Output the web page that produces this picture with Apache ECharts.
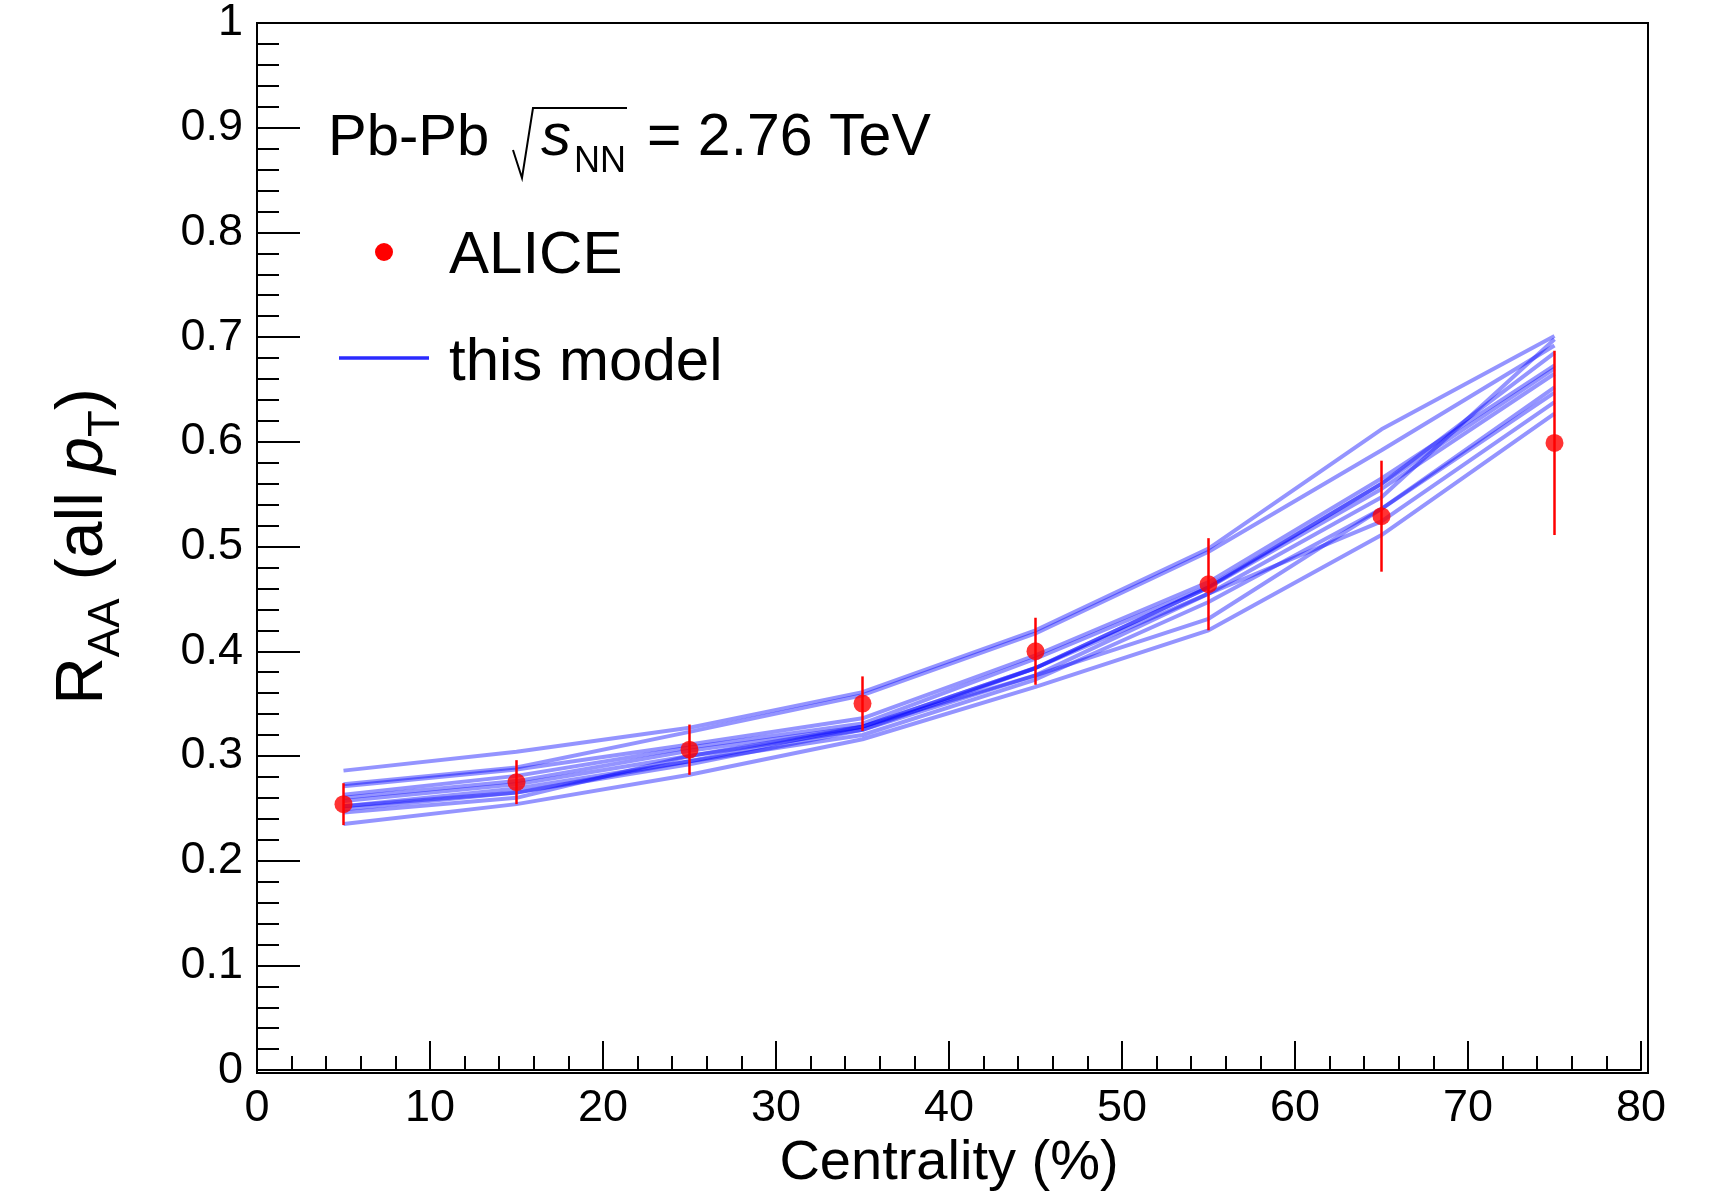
<!DOCTYPE html>
<html>
<head>
<meta charset="utf-8">
<title>RAA vs centrality</title>
<script src="https://cdn.jsdelivr.net/npm/echarts@6/dist/echarts.min.js"></script>
<style>
html,body{margin:0;padding:0;background:#fff;}
#chart{width:1717px;height:1197px;}
</style>
</head>
<body>
<div id="chart"></div>
<script>
var centrality = [5, 15, 25, 35, 45, 55, 65, 75];
var aliceRaa = [0.254, 0.275, 0.306, 0.350, 0.400, 0.464, 0.529, 0.599];
var aliceErr = [0.020, 0.021, 0.024, 0.026, 0.032, 0.044, 0.053, 0.088];

// model curves (one per parameter set)
var model1 = [0.286, 0.304, 0.327, 0.361, 0.420, 0.498, 0.612, 0.701];
var model2 = [0.273, 0.289, 0.323, 0.358, 0.417, 0.495, 0.592, 0.692];
var model3 = [0.271, 0.287, 0.311, 0.336, 0.396, 0.466, 0.565, 0.673];
var model4 = [0.263, 0.281, 0.308, 0.331, 0.393, 0.462, 0.560, 0.670];
var model5 = [0.260, 0.276, 0.305, 0.328, 0.384, 0.461, 0.555, 0.665];
var model6 = [0.257, 0.273, 0.300, 0.325, 0.377, 0.455, 0.547, 0.698];
var model7 = [0.252, 0.269, 0.295, 0.320, 0.373, 0.447, 0.536, 0.652];
var model8 = [0.249, 0.265, 0.292, 0.325, 0.384, 0.455, 0.524, 0.638];
var model9 = [0.246, 0.260, 0.300, 0.328, 0.377, 0.431, 0.536, 0.647];
var model10 = [0.235, 0.254, 0.282, 0.316, 0.366, 0.420, 0.511, 0.627];
var model11 = [0.252, 0.265, 0.295, 0.328, 0.384, 0.461, 0.560, 0.685];
var models = [model1, model2, model3, model4, model5, model6, model7, model8, model9, model10, model11];

var FONT = 'Liberation Sans';

function pairs(ys) {
  return centrality.map(function (c, i) { return [c, ys[i]]; });
}

var myChart = echarts.init(document.getElementById('chart'));

var series = models.map(function (m) {
  return {
    name: 'this model',
    type: 'line',
    data: pairs(m),
    showSymbol: false,
    symbol: 'none',
    lineStyle: { color: 'rgba(0,0,255,0.42)', width: 4 },
    z: 2,
    silent: true
  };
});

// error bars
series.push({
  name: 'ALICE err',
  type: 'custom',
  z: 3,
  data: centrality.map(function (c, i) { return [c, aliceRaa[i] - aliceErr[i], aliceRaa[i] + aliceErr[i]]; }),
  renderItem: function (params, api) {
    var lo = api.coord([api.value(0), api.value(1)]);
    var hi = api.coord([api.value(0), api.value(2)]);
    return {
      type: 'line',
      shape: { x1: lo[0], y1: lo[1], x2: hi[0], y2: hi[1] },
      style: { stroke: '#ff0000', lineWidth: 2.5 }
    };
  }
});

series.push({
  name: 'ALICE',
  type: 'scatter',
  data: pairs(aliceRaa),
  symbol: 'circle',
  symbolSize: 18,
  itemStyle: { color: '#ff0000' },
  z: 4
});

var option = {
  backgroundColor: '#fff',
  animation: false,
  grid: { left: 257, right: 76, top: 23, bottom: 124 },
  xAxis: {
    type: 'value',
    min: 0,
    max: 80,
    interval: 10,
    name: 'Centrality (%)',
    nameLocation: 'middle',
    nameGap: 62,
    nameTextStyle: { fontFamily: FONT, fontSize: 56, color: '#000' },
    axisLine: { show: true, lineStyle: { color: '#000', width: 2 } },
    axisTick: { show: true, inside: true, length: 29, lineStyle: { color: '#000', width: 2 } },
    minorTick: { show: true, splitNumber: 5, length: 14, lineStyle: { color: '#000', width: 2 } },
    axisLabel: { fontFamily: FONT, fontSize: 45, color: '#000', margin: 16 },
    splitLine: { show: false }
  },
  yAxis: {
    type: 'value',
    min: 0,
    max: 1,
    interval: 0.1,
    name: '{r|R}{sub|AA}{r| (all }{it|p}{sub|T}{r|)}',
    nameLocation: 'middle',
    nameRotate: 90,
    nameGap: 128,
    nameTextStyle: {
      color: '#000',
      rich: {
        r: { fontFamily: FONT, fontSize: 66, color: '#000', lineHeight: 90 },
        it: { fontFamily: FONT, fontSize: 66, fontStyle: 'italic', color: '#000', lineHeight: 90 },
        sub: { fontFamily: FONT, fontSize: 44, color: '#000', lineHeight: 44, verticalAlign: 'bottom' }
      }
    },
    axisLine: { show: true, lineStyle: { color: '#000', width: 2 } },
    axisTick: { show: true, inside: true, length: 43, lineStyle: { color: '#000', width: 2 } },
    minorTick: { show: true, splitNumber: 5, length: 22, lineStyle: { color: '#000', width: 2 } },
    axisLabel: { fontFamily: FONT, fontSize: 45, color: '#000', margin: 14 },
    splitLine: { show: false }
  },
  graphic: [
    // frame
    { type: 'rect', shape: { x: 257, y: 23, width: 1391, height: 1050 },
      style: { fill: null, stroke: '#000', lineWidth: 2 }, z: 10, silent: true },
    // header
    { type: 'text', left: 328, top: 110, style: { text: 'Pb-Pb', font: '58px "Liberation Sans"', fill: '#000' }, z: 10 },
    { type: 'polyline', shape: { points: [[513, 150], [522, 178], [533, 108], [627, 108]] },
      style: { stroke: '#000', lineWidth: 2, fill: null }, z: 10 },
    { type: 'text', left: 541, top: 108, style: { text: 's', font: 'italic 60px "Liberation Sans"', fill: '#000' }, z: 10 },
    { type: 'text', left: 574, top: 144, style: { text: 'NN', font: '36px "Liberation Sans"', fill: '#000' }, z: 10 },
    { type: 'text', left: 647, top: 109, style: { text: '= 2.76 TeV', font: '59px "Liberation Sans"', fill: '#000' }, z: 10 },
    // legend
    { type: 'circle', shape: { cx: 384, cy: 252, r: 9 }, style: { fill: '#ff0000' }, z: 10 },
    { type: 'text', left: 449, top: 226, style: { text: 'ALICE', font: '60px "Liberation Sans"', fill: '#000' }, z: 10 },
    { type: 'line', shape: { x1: 339, y1: 358, x2: 429, y2: 358 }, style: { stroke: '#2a2aff', lineWidth: 3.5 }, z: 10 },
    { type: 'text', left: 449, top: 333, style: { text: 'this model', font: '60px "Liberation Sans"', fill: '#000' }, z: 10 }
  ],
  series: series
};

myChart.setOption(option);
window.addEventListener('resize', function () {
  myChart.resize();
});
</script>
</body>
</html>
